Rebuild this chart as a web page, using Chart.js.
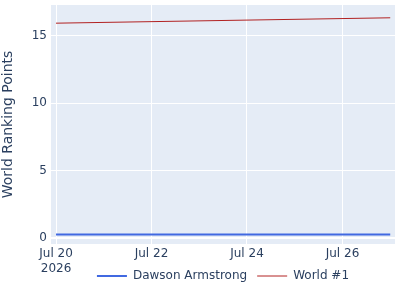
<!DOCTYPE html>
<html>
<head>
<meta charset="utf-8">
<script src="https://cdn.jsdelivr.net/npm/chart.js@4.4.0/dist/chart.umd.min.js"></script>
<style>
  html, body { margin: 0; padding: 0; background: #fff; }
  #wrap { width: 400px; height: 300px; }
</style>
</head>
<body>
<div id="wrap"><canvas id="chart"></canvas></div>
<script>
// days of July 2026
const days = [20, 27];
const dawsonPoints = [0.25, 0.25];
const worldOnePoints = [15.95, 16.35];
const xTickDays = [20, 22, 24, 26];
const yearLabel = '2026';
const yTickValues = [0, 5, 10, 15];

const textColor = '#2a3f5f';
const fontFamily = '"DejaVu Sans", sans-serif';

const toXY = (vals) => days.map((d, i) => ({ x: d, y: vals[i] }));

// plotly-like plot background
const plotBg = {
  id: 'plotBg',
  beforeDraw(chart) {
    const { ctx, chartArea: a } = chart;
    ctx.save();
    ctx.fillStyle = '#E5ECF6';
    ctx.fillRect(a.left, a.top, a.right - a.left, a.bottom - a.top);
    ctx.restore();
  }
};

// center the legend under the plot area, like plotly does
const legendShift = {
  id: 'legendShift',
  afterLayout(chart) {
    const l = chart.legend, a = chart.chartArea;
    const shift = (a.left + a.right) / 2 - (l.left + l.right) / 2;
    l.left += shift;
    l.right += shift;
  }
};

// year under the first date tick
const yearTick = {
  id: 'yearTick',
  afterDraw(chart) {
    const x = chart.scales.x;
    const ctx = chart.ctx;
    ctx.save();
    ctx.fillStyle = textColor;
    ctx.font = '12px ' + fontFamily;
    ctx.textAlign = 'center';
    ctx.textBaseline = 'middle';
    ctx.fillText(yearLabel, x.getPixelForValue(xTickDays[0]), x.top + 25);
    ctx.restore();
  }
};

new Chart(document.getElementById('chart'), {
  type: 'line',
  data: {
    datasets: [
      {
        label: 'Dawson Armstrong',
        data: toXY(dawsonPoints),
        borderColor: '#4169E1',
        backgroundColor: '#4169E1',
        borderWidth: 2,
        pointRadius: 0,
        pointStyle: 'line'
      },
      {
        label: 'World #1',
        data: toXY(worldOnePoints),
        borderColor: '#B22222',
        backgroundColor: '#B22222',
        borderWidth: 1,
        pointRadius: 0,
        pointStyle: 'line'
      }
    ]
  },
  options: {
    responsive: true,
    maintainAspectRatio: false,
    animation: false,
    layout: { padding: { top: 5, right: 5, left: 0, bottom: 8 } },
    scales: {
      x: {
        type: 'linear',
        min: 19.895,
        max: 27.1,
        afterBuildTicks: (s) => { s.ticks = xTickDays.map(v => ({ value: v })); },
        afterFit: (s) => { s.height = 16; s.paddingLeft = 0; s.paddingRight = 0; },
        grid: { color: '#ffffff', lineWidth: 1, drawTicks: false },
        border: { display: false },
        ticks: {
          color: textColor,
          font: { family: fontFamily, size: 12 },
          padding: 3,
          maxRotation: 0,
          callback: (v) => 'Jul ' + v
        }
      },
      y: {
        min: -0.45,
        max: 17.3,
        afterBuildTicks: (s) => { s.ticks = yTickValues.map(v => ({ value: v })); },
        afterFit: (s) => { s.width = 51; s.paddingTop = 0; s.paddingBottom = 0; },
        grid: {
          color: '#ffffff',
          lineWidth: (c) => c.tick && c.tick.value === 0 ? 2 : 1,
          drawTicks: false
        },
        border: { display: false },
        ticks: {
          color: textColor,
          font: { family: fontFamily, size: 12 },
          padding: 4
        },
        title: {
          display: true,
          text: 'World Ranking Points',
          color: textColor,
          font: { family: fontFamily, size: 14 },
          padding: 0
        }
      }
    },
    plugins: {
      legend: {
        position: 'bottom',
        labels: {
          usePointStyle: true,
          pointStyleWidth: 30,
          boxHeight: 12,
          color: textColor,
          font: { family: fontFamily, size: 12 },
          padding: 10
        }
      },
      tooltip: { enabled: false }
    }
  },
  plugins: [plotBg, legendShift, yearTick]
});
</script>
</body>
</html>
